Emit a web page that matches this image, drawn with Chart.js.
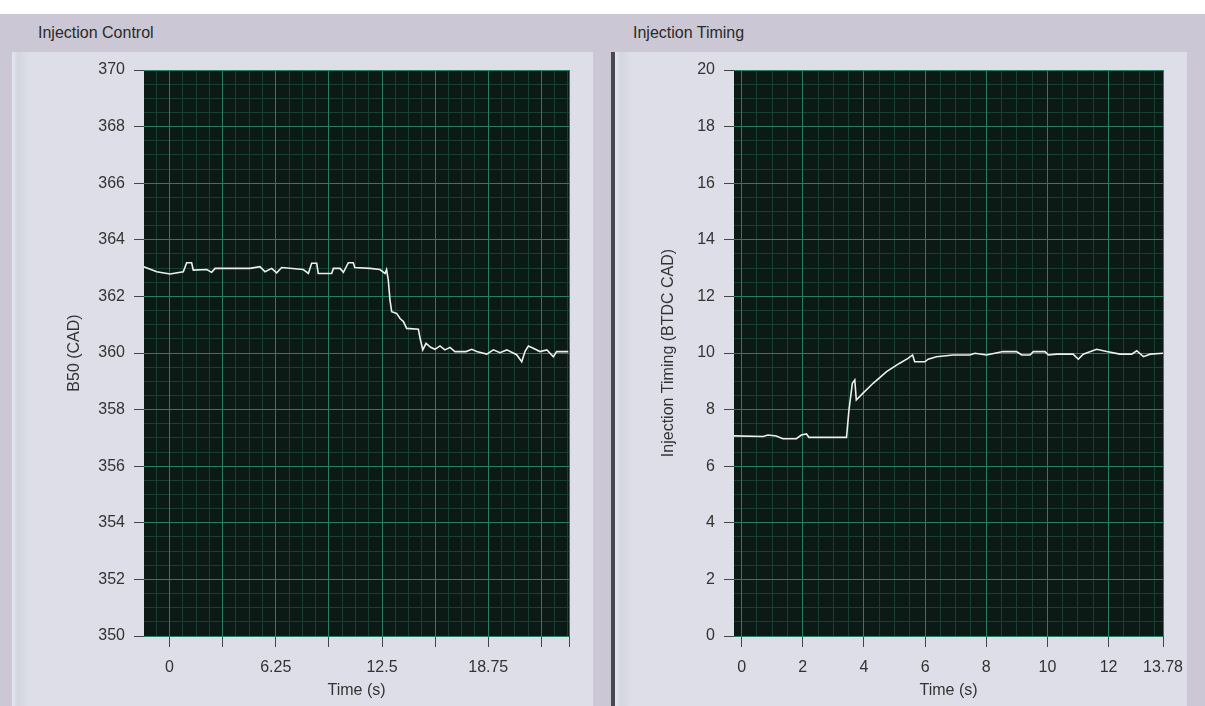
<!DOCTYPE html>
<html>
<head>
<meta charset="utf-8">
<script src="https://cdn.jsdelivr.net/npm/chart.js@4.4.1/dist/chart.umd.min.js"></script>
<style>
  body { margin: 0; width: 1205px; height: 706px; background: #fff; overflow: hidden; position: relative;
         font-family: "Liberation Sans", Arial, sans-serif; }
  #frame { position: absolute; left: 0; top: 14px; width: 1205px; height: 692px; background: #cbc7d4; }
  .title { position: absolute; top: 24px; font-size: 16px; color: #2a2a2a; }
  .inner { position: absolute; top: 52px; height: 654px;
           background: linear-gradient(to right, #e4e7ef 0px, #d3d5df 6px, #dddee7 16px, #dddee7 100%); }
  #sep { position: absolute; left: 611px; top: 52px; width: 4px; height: 654px; background: #4a4850; }
  canvas { position: absolute; }
</style>
</head>
<body>
<div id="frame"></div>
<div class="title" style="left:38px">Injection Control</div>
<div class="title" style="left:633px">Injection Timing</div>
<div class="inner" style="left:12px; width:581px"></div>
<div id="sep"></div>
<div class="inner" style="left:615px; width:572px"></div>
<canvas id="leftChart" width="579" height="651" style="left:14px; top:55px"></canvas>
<canvas id="rightChart" width="572" height="651" style="left:615px; top:55px"></canvas>
<script>
// Injection Control: B50 vs time
const leftTime = [-1.54, -0.75, 0.03, 0.81, 1.01, 1.3, 1.4, 2.19, 2.48, 2.68, 4.74, 5.32, 5.62, 6.01, 6.3, 6.6,
  7.87, 8.17, 8.36, 8.66, 8.75, 9.54, 9.64, 10.03, 10.23, 10.52, 10.81, 10.9, 11.8, 12.38, 12.68, 12.77,
  12.87, 12.97, 13.07, 13.36, 13.56, 13.76, 13.95, 14.64, 14.74, 14.9, 15.09, 15.36, 15.62, 15.91, 16.2,
  16.5, 16.79, 17.44, 17.78, 18.07, 18.66, 19.05, 19.44, 19.84, 20.42, 20.72, 20.91, 21.11, 21.4, 21.79,
  22.2, 22.58, 22.77, 23.46];
const leftB50 = [363.05, 362.87, 362.79, 362.87, 363.19, 363.19, 362.93, 362.95, 362.85, 362.99, 362.99, 363.05,
  362.87, 362.99, 362.83, 363.02, 362.95, 362.81, 363.17, 363.17, 362.81, 362.81, 362.99, 362.99, 362.85,
  363.19, 363.19, 363.02, 362.99, 362.95, 362.81, 362.95, 362.58, 361.87, 361.46, 361.4, 361.22, 361.11,
  360.87, 360.84, 360.52, 360.11, 360.34, 360.2, 360.13, 360.25, 360.11, 360.2, 360.05, 360.05, 360.13,
  360.05, 359.96, 360.11, 360.01, 360.11, 359.94, 359.69, 360.05, 360.25, 360.17, 360.05, 360.11, 359.87,
  360.05, 360.05];
const leftXTicks = [0, 3.125, 6.25, 9.375, 12.5, 15.625, 18.75, 21.875, 23.5];
const leftXLabels = ['0', '', '6.25', '', '12.5', '', '18.75', '', ''];

// Injection Timing: BTDC CAD vs time
const rightTime = [-0.25, 0.7, 0.86, 1.13, 1.35, 1.79, 1.95, 2.12, 2.2, 3.43, 3.51, 3.62, 3.7, 3.75, 3.97,
  4.3, 4.74, 5.17, 5.44, 5.59, 5.66, 5.99, 6.1, 6.37, 6.92, 7.46, 7.63, 8.01, 8.55, 8.99, 9.16, 9.43, 9.54,
  9.92, 10.03, 10.3, 10.84, 11.01, 11.17, 11.61, 11.94, 12.37, 12.76, 12.92, 13.14, 13.36, 13.78];
const rightTiming = [7.07, 7.05, 7.1, 7.07, 6.97, 6.97, 7.1, 7.14, 7.02, 7.02, 7.99, 8.93, 9.05, 8.34, 8.58,
  8.93, 9.34, 9.64, 9.81, 9.93, 9.69, 9.69, 9.78, 9.87, 9.93, 9.93, 9.99, 9.93, 10.05, 10.05, 9.93, 9.93,
  10.05, 10.05, 9.93, 9.96, 9.96, 9.78, 9.96, 10.13, 10.05, 9.96, 9.96, 10.08, 9.87, 9.96, 9.99];
const rightXTicks = [0, 2, 4, 6, 8, 10, 12, 13.78];
const rightXLabels = ['0', '2', '4', '6', '8', '10', '12', '13.78'];

const plotBg = {
  id: 'plotBg',
  beforeDraw(chart) {
    const { ctx, chartArea: a } = chart;
    ctx.save();
    ctx.fillStyle = '#0c1a15';
    ctx.fillRect(a.left, a.top, a.width, a.height);
    ctx.restore();
  }
};

const tickFont = { family: '"Liberation Sans", Arial, sans-serif', size: 16 };
const majorGrid = '#2a7d62';
const minorGrid = '#193f33';

function fixedTicks(values) {
  return scale => { scale.ticks = values.map(v => ({ value: v })); };
}
function zeroSize(scale) {
  scale.width = scale.isHorizontal() ? scale.width : 0;
  scale.height = scale.isHorizontal() ? 0 : scale.height;
  scale.paddingLeft = scale.paddingRight = scale.paddingTop = scale.paddingBottom = 0;
}
function steps(from, to, step) {
  const out = [];
  for (let v = from; v <= to + 1e-9; v += step) out.push(v);
  return out;
}

function makeChart(id, o) {
  return new Chart(document.getElementById(id), {
    type: 'line',
    data: {
      datasets: [{
        data: o.xs.map((x, i) => ({ x: x, y: o.ys[i] })),
        borderColor: '#eeeeee',
        borderWidth: 1.6,
        pointRadius: 0,
        tension: 0
      }]
    },
    options: {
      responsive: false,
      animation: false,
      layout: { padding: { left: o.padLeft, right: 24, top: 15, bottom: 0 } },
      plugins: { legend: { display: false }, tooltip: { enabled: false } },
      scales: {
        xMinor: {
          type: 'linear', position: 'bottom', min: o.xMin, max: o.xMax, z: -1,
          afterBuildTicks: fixedTicks(steps(o.minorFrom, o.xMax, o.xMinorStep)),
          ticks: { display: false },
          grid: { color: minorGrid, drawTicks: false },
          border: { display: false },
          afterFit: zeroSize
        },
        yMinor: {
          type: 'linear', position: 'left', min: o.yMin, max: o.yMax, z: -1,
          afterBuildTicks: fixedTicks(steps(o.yMin, o.yMax, 0.5)),
          ticks: { display: false },
          grid: { color: minorGrid, drawTicks: false },
          border: { display: false },
          afterFit: zeroSize
        },
        x: {
          type: 'linear', position: 'bottom', min: o.xMin, max: o.xMax,
          afterBuildTicks: fixedTicks(o.xTicks),
          ticks: {
            font: tickFont, color: '#333', padding: 11, maxRotation: 0, autoSkip: false,
            callback: (v, i) => o.xLabels[i]
          },
          grid: { color: majorGrid, tickColor: '#444', tickLength: 11 },
          border: { display: false },
          title: { display: true, text: 'Time (s)', font: tickFont, color: '#333', padding: { top: 4, bottom: 6 } },
          afterFit: s => { s.height = 70; s.paddingLeft = 0; s.paddingRight = 0; }
        },
        y: {
          type: 'linear', position: 'left', min: o.yMin, max: o.yMax,
          ticks: { stepSize: 2, font: tickFont, color: '#333', padding: 9 },
          grid: { color: majorGrid, tickColor: '#444', tickLength: 10 },
          border: { display: false },
          title: { display: true, text: o.yTitle, font: tickFont, color: '#333' },
          afterFit: s => { s.width = o.yWidth; s.paddingTop = 0; s.paddingBottom = 0; }
        }
      }
    },
    plugins: [plotBg]
  });
}

makeChart('leftChart', {
  xs: leftTime, ys: leftB50,
  xMin: -1.5, xMax: 23.5, minorFrom: -0.78125, xMinorStep: 0.78125,
  xTicks: leftXTicks, xLabels: leftXLabels,
  yMin: 350, yMax: 370, yTitle: 'B50 (CAD)',
  padLeft: 47, yWidth: 83
});

makeChart('rightChart', {
  xs: rightTime, ys: rightTiming,
  xMin: -0.25, xMax: 13.78, minorFrom: 0, xMinorStep: 0.5,
  xTicks: rightXTicks, xLabels: rightXLabels,
  yMin: 0, yMax: 20, yTitle: 'Injection Timing (BTDC CAD)',
  padLeft: 40, yWidth: 79
});
</script>
</body>
</html>
